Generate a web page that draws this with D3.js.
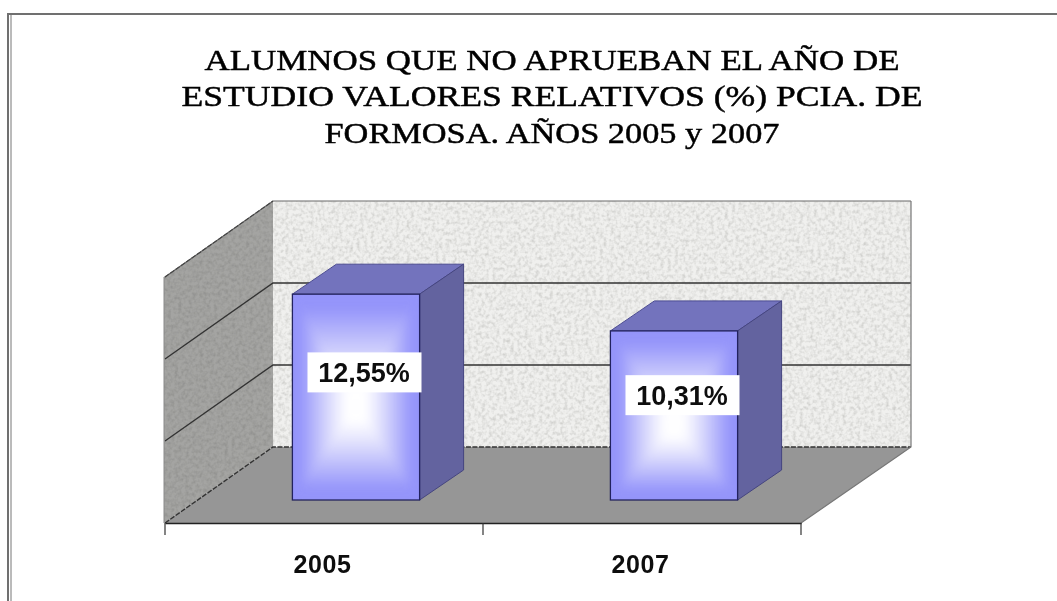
<!DOCTYPE html>
<html><head><meta charset="utf-8">
<script src="https://cdn.jsdelivr.net/npm/d3@7"></script>
<style>html,body{margin:0;padding:0;background:#fff}svg{display:block}</style>
</head><body>
<script>
const titleLines = ["ALUMNOS QUE NO APRUEBAN EL AÑO DE","ESTUDIO VALORES RELATIVOS (%) PCIA. DE","FORMOSA. AÑOS 2005 y 2007"];
const categories = ["2005","2007"];
const values = [12.55,10.31];
const valueLabels = ["12,55%","10,31%"];
const gridValues = [0,5,10,15];

const W=1057,H=601;
const svg=d3.select("body").append("svg").attr("width",W).attr("height",H);
const defs=svg.append("defs");

function noise(id,seed,freq,col,gain,bias){
  const f=defs.append("filter").attr("id",id).attr("x",0).attr("y",0).attr("width","100%").attr("height","100%");
  f.append("feTurbulence").attr("type","fractalNoise").attr("baseFrequency",freq).attr("numOctaves",2).attr("seed",seed).attr("result","n");
  f.append("feColorMatrix").attr("in","n").attr("type","matrix").attr("values",
    `0 0 0 0 0  0 0 0 0 0  0 0 0 0 0  ${gain} 0 0 0 ${bias}`).attr("result","a");
  f.append("feGaussianBlur").attr("in","a").attr("stdDeviation",0.7).attr("result","ab");
  f.append("feFlood").attr("flood-color",col).attr("result","c");
  f.append("feComposite").attr("in","c").attr("in2","ab").attr("operator","in").attr("result","s");
  f.append("feComposite").attr("in","s").attr("in2","SourceGraphic").attr("operator","in").attr("result","s2");
  const m=f.append("feMerge");
  m.append("feMergeNode").attr("in","SourceGraphic");
  m.append("feMergeNode").attr("in","s2");
}
noise("wallTex",4,0.28,"#cdcdca",2.0,-0.8);
noise("sideTex",9,0.28,"#8c8c8a",1.6,-0.6);
defs.append("filter").attr("id","soft").append("feGaussianBlur").attr("stdDeviation",0.4);
defs.append("filter").attr("id","glow").attr("filterUnits","userSpaceOnUse").attr("x",0).attr("y",0).attr("width",W).attr("height",H)
  .append("feGaussianBlur").attr("stdDeviation",5);

// page frame
const frame=svg.append("g").attr("fill","none");
frame.append("path").attr("d",`M${W} 14H8V${H}`).attr("stroke","#707070").attr("stroke-width",2);
frame.append("path").attr("d",`M11 ${H}V15`).attr("stroke","#777").attr("stroke-width",1);

// title
const titleWidths=[695,741,455];
svg.append("g").attr("filter","url(#soft)").selectAll("text").data(titleLines).join("text")
  .attr("x",552).attr("y",(d,i)=>[70,106,143][i]).attr("text-anchor","middle")
  .attr("textLength",(d,i)=>titleWidths[i]).attr("lengthAdjust","spacingAndGlyphs")
  .attr("font-family","Liberation Serif").attr("font-size",29).attr("fill","#000")
  .attr("stroke","#000").attr("stroke-width",0.45).text(d=>d);

// scales
const x=d3.scaleBand().domain(categories).range([165,801]).paddingInner(0.6).paddingOuter(0.3);
const y=d3.scaleLinear().domain([0,15]).range([447,201]);
const depthX=109, depthY=76;
const backX=x.range()[0]+depthX-1, backR=x.range()[1]+depthX+1, floorY=y(0)+depthY;
const barShift=32, barDrop=53, barDX=44, barDY=30;

const g=svg.append("g").attr("filter","url(#soft)");

// walls
g.append("rect").attr("x",backX).attr("y",y(15)).attr("width",backR-backX).attr("height",y(0)-y(15))
  .attr("fill","#f0f0ee").attr("filter","url(#wallTex)");
g.append("path").attr("d",`M${backX} ${y(15)}L${backX-depthX} ${y(15)+depthY}V${floorY}L${backX} ${y(0)}Z`)
  .attr("fill","#a4a4a2").attr("filter","url(#sideTex)");
g.append("path").attr("d",`M${backX-depthX} ${floorY}L${backX} ${y(0)}H${backR}L${backR-depthX-1} ${floorY}Z`)
  .attr("fill","#969696");

// grid lines
g.selectAll("path.grid").data(gridValues).join("path").attr("class","grid").attr("fill","none")
  .attr("d",v=>`M${backX-depthX+1} ${y(v)+depthY}L${backX} ${y(v)}H${backR}`)
  .attr("stroke",v=>v===15?"#6a6a6a":"#333")
  .attr("stroke-dasharray",v=>v===0?"5 1.5":null)
  .attr("stroke-width",v=>v===15?1.2:1.4);
g.append("path").attr("d",`M${backX-depthX+1} ${y(15)+depthY}L${backX} ${y(15)}`).attr("stroke","#444").attr("stroke-dasharray","5 1.5").attr("stroke-width",1.1);
g.append("path").attr("d",`M${backR} ${y(15)}V${y(0)}L${backR-depthX-1} ${floorY}`).attr("fill","none").attr("stroke","#777").attr("stroke-width",1.2);
g.append("line").attr("x1",backX-depthX).attr("x2",backX-depthX).attr("y1",y(15)+depthY).attr("y2",floorY).attr("stroke","#8a8a8a");

// axis
const axis=d3.axisBottom(x).tickSize(0).tickPadding(0);
const ax=g.append("g").attr("transform",`translate(0,${floorY})`).call(axis);
ax.select(".domain").attr("stroke","#222").attr("stroke-width",1.4);
ax.selectAll("text").attr("x",-1.5).attr("y",50).attr("dy",0)
  .attr("font-family","Liberation Sans").attr("font-weight","bold").attr("font-size",25).attr("letter-spacing",0.6).attr("fill","#111");
const edges=[x.range()[0],...categories.map(c=>x(c)+x.bandwidth()+x.step()*x.paddingOuter())];
ax.selectAll("line.edge").data(edges).join("line").attr("class","edge")
  .attr("x1",d=>d).attr("x2",d=>d).attr("y1",0).attr("y2",12).attr("stroke","#333").attr("stroke-width",1.2);

// gradients for the rectangular "from centre" fill of the bar face
const edge="#9494fa";
[["gT",0,0,0,1],["gB",0,1,0,0],["gL",0,0,1,0],["gR",1,0,0,0]].forEach(([id,x1,y1,x2,y2])=>{
  const lg=defs.append("linearGradient").attr("id",id).attr("x1",x1).attr("y1",y1).attr("x2",x2).attr("y2",y2);
  lg.append("stop").attr("offset",0).attr("stop-color",edge);
  lg.append("stop").attr("offset",0.12).attr("stop-color",edge);
  lg.append("stop").attr("offset",0.6).attr("stop-color","#dedefd");
  lg.append("stop").attr("offset",0.85).attr("stop-color","#ffffff");
  lg.append("stop").attr("offset",1).attr("stop-color","#ffffff");
});

// bars
const bars=g.selectAll("g.bar").data(categories.map((c,i)=>({c,v:values[i],l:valueLabels[i]}))).join("g").attr("class","bar");
bars.each(function(d,i){
  const s=d3.select(this);
  const x0=x(d.c)+barShift, x1=x0+x.bandwidth(), yb=y(0)+barDrop, yt=y(d.v)+barDrop;
  const cx=(x0+x1)/2, cy=(yt+yb)/2+10;
  s.append("path").attr("d",`M${x0} ${yt}L${x0+barDX} ${yt-barDY}H${x1+barDX}L${x1} ${yt}Z`)
    .attr("fill","#7373bd").attr("stroke","#4a4a90").attr("stroke-width",1);
  s.append("path").attr("d",`M${x1} ${yt}L${x1+barDX} ${yt-barDY}V${yb-barDY}L${x1} ${yb}Z`)
    .attr("fill","#63639f").attr("stroke","#45457f").attr("stroke-width",1);
  defs.append("clipPath").attr("id","face"+i).append("rect").attr("x",x0).attr("y",yt).attr("width",x1-x0).attr("height",yb-yt);
  s.append("rect").attr("x",x0).attr("y",yt).attr("width",x1-x0).attr("height",yb-yt).attr("fill",edge);
  const face=s.append("g").attr("clip-path",`url(#face${i})`).append("g").attr("filter","url(#glow)");
  const tri=(id,p)=>face.append("path").attr("d","M"+p.map(q=>q.join(" ")).join("L")+"Z").attr("fill",`url(#${id})`).attr("stroke",`url(#${id})`).attr("stroke-width",0.6);
  tri("gT",[[x0,yt],[x1,yt],[cx,cy]]);
  tri("gB",[[x0,yb],[x1,yb],[cx,cy]]);
  tri("gL",[[x0,yt],[x0,yb],[cx,cy]]);
  tri("gR",[[x1,yt],[x1,yb],[cx,cy]]);
  s.append("rect").attr("x",x0).attr("y",yt).attr("width",x1-x0).attr("height",yb-yt)
    .attr("fill","none").attr("stroke","#24245e").attr("stroke-width",1.3);
  // value label box
  const ly=yb-(y(0)-y(d.v*0.62));
  s.append("rect").attr("x",cx+8.5-57).attr("y",ly-20).attr("width",114).attr("height",40).attr("fill","#fff");
  s.append("text").attr("x",cx+8).attr("y",ly+9.5).attr("text-anchor","middle")
    .attr("font-family","Liberation Sans").attr("font-weight","bold").attr("font-size",27).attr("fill","#111").text(d.l);
});
</script>
</body></html>
